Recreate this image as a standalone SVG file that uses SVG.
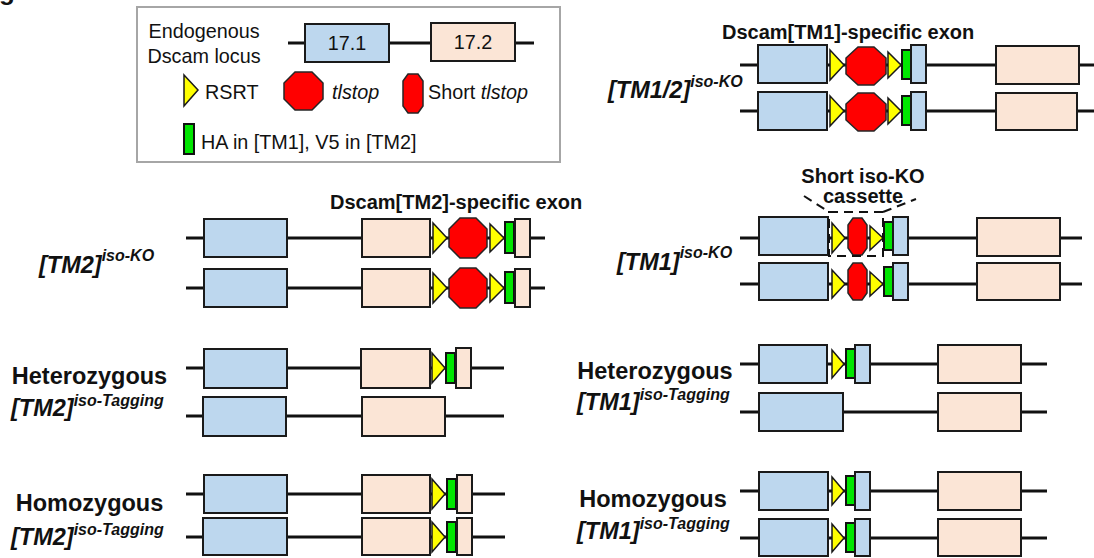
<svg xmlns="http://www.w3.org/2000/svg" width="1094" height="558" viewBox="0 0 1094 558">
<style>
.ln{stroke:#111;stroke-width:3;fill:none}
.bl{fill:#bdd7ee;stroke:#1a1a1a;stroke-width:2}
.pc{fill:#fbe5d6;stroke:#1a1a1a;stroke-width:2}
.rs{fill:#ffff00;stroke:#1a1a1a;stroke-width:1.5;stroke-linejoin:miter}
.st{fill:#ff0000;stroke:#262626;stroke-width:1.5}
.gr{fill:#00e600;stroke:#111;stroke-width:2}
.lg{font-family:"Liberation Sans",Arial,sans-serif;font-size:19.8px;fill:#111}
.an{font-family:"Liberation Sans",Arial,sans-serif;font-size:20px;font-weight:bold;fill:#111}
.lb{font-family:"Liberation Sans",Arial,sans-serif;font-size:23.5px;font-weight:bold;fill:#111}
.gt{font-family:"Liberation Sans",Arial,sans-serif;font-size:23.5px;font-weight:bold;font-style:italic;fill:#111}
.sup{font-size:16px}
.it{font-style:italic}
.dash{stroke:#111;stroke-width:2;fill:none;stroke-dasharray:9 6}
</style>
<rect width="1094" height="558" fill="#ffffff"/>
<text x="-1" y="0" style="font-family:'Liberation Sans',Arial,sans-serif;font-size:26px;font-weight:bold" fill="#111">g</text>

<g id="legend">
<rect x="137" y="7" width="423" height="155" fill="#ffffff" stroke="#a6a6a6" stroke-width="2"/>
<text class="lg" x="204" y="38" text-anchor="middle">Endogenous</text>
<text class="lg" x="204" y="63" text-anchor="middle">Dscam locus</text>
<line class="ln" x1="288" y1="43" x2="534" y2="43"/>
<rect class="bl" x="305" y="24" width="84" height="38"/>
<text class="lg" x="347" y="50" text-anchor="middle">17.1</text>
<rect class="pc" x="431" y="23" width="84" height="38"/>
<text class="lg" x="473" y="49" text-anchor="middle">17.2</text>
<polygon class="rs" points="184,75 198,90 184,106"/>
<text class="lg" x="205" y="99">RSRT</text>
<polygon class="st" points="295,72 312,72 323,83 323,99 312,110 295,110 284,99 284,83"/>
<text class="lg it" x="332" y="99">tlstop</text>
<polygon class="st" points="408,74 418,74 423,81 423,106 418,113 408,113 403,106 403,81"/>
<text class="lg" x="428" y="99">Short <tspan class="it">tlstop</tspan></text>
<rect class="gr" x="184" y="124" width="10" height="30"/>
<text class="lg" x="201" y="149">HA in [TM1], V5 in [TM2]</text>
</g>

<g id="tm12-isoko">
<text class="an" x="722" y="39">Dscam[TM1]-specific exon</text>
<text class="gt" x="608" y="98">[TM1/2]<tspan class="sup" dy="-11">iso-KO</tspan></text>
<line class="ln" x1="740" y1="65" x2="1094" y2="65"/>
<rect class="bl" x="758" y="45" width="69" height="38"/>
<polygon class="rs" points="830,50 844,65 830,80"/>
<polygon class="st" points="858,47 874,47 886,58 886,74 874,85 858,85 846,74 846,58"/>
<polygon class="rs" points="888,52 901,65 888,78"/>
<rect class="gr" x="902" y="50" width="9" height="29"/>
<rect class="bl" x="911" y="45" width="15" height="38"/>
<rect class="pc" x="996" y="46" width="83" height="38"/>
<line class="ln" x1="740" y1="111" x2="1094" y2="111"/>
<rect class="bl" x="758" y="92" width="69" height="38"/>
<polygon class="rs" points="830,96 844,111 830,126"/>
<polygon class="st" points="858,93 874,93 886,104 886,120 874,131 858,131 846,120 846,104"/>
<polygon class="rs" points="888,98 901,111 888,124"/>
<rect class="gr" x="902" y="96" width="9" height="29"/>
<rect class="bl" x="911" y="92" width="15" height="38"/>
<rect class="pc" x="996" y="93" width="81" height="37"/>
</g>

<g id="tm2-isoko">
<text class="an" x="330" y="209">Dscam[TM2]-specific exon</text>
<text class="gt" x="39" y="273">[TM2]<tspan class="sup" dy="-12">iso-KO</tspan></text>
<line class="ln" x1="186" y1="238" x2="545" y2="238"/>
<rect class="bl" x="204" y="219" width="83" height="38"/>
<rect class="pc" x="362" y="219" width="68" height="38"/>
<polygon class="rs" points="433,223 447,238 433,253"/>
<polygon class="st" points="460,218 476,218 487,229 487,247 476,258 460,258 449,247 449,229"/>
<polygon class="rs" points="490,224 504,238 490,252"/>
<rect class="gr" x="505" y="222" width="9" height="31"/>
<rect class="pc" x="515" y="219" width="15" height="38"/>
<line class="ln" x1="186" y1="288" x2="545" y2="288"/>
<rect class="bl" x="204" y="269" width="83" height="38"/>
<rect class="pc" x="362" y="269" width="68" height="38"/>
<polygon class="rs" points="433,273 447,288 433,303"/>
<polygon class="st" points="460,268 476,268 487,279 487,297 476,308 460,308 449,297 449,279"/>
<polygon class="rs" points="490,274 504,288 490,302"/>
<rect class="gr" x="505" y="272" width="9" height="31"/>
<rect class="pc" x="515" y="269" width="15" height="38"/>
</g>

<g id="tm1-isoko">
<text class="an" x="863" y="183" text-anchor="middle">Short iso-KO</text>
<text class="an" x="863" y="203" text-anchor="middle">cassette</text>
<text class="gt" x="617" y="270">[TM1]<tspan class="sup" dy="-12">iso-KO</tspan></text>
<line class="ln" x1="740" y1="238" x2="1082" y2="238"/>
<rect class="bl" x="759" y="217" width="69" height="38"/>
<polygon class="rs" points="832,223 845,238 832,253"/>
<polygon class="st" points="853,218 862,218 867,225 867,248 862,255 853,255 848,248 848,225"/>
<polygon class="rs" points="870,226 883,238 870,250"/>
<rect class="gr" x="884" y="222" width="9" height="28"/>
<rect class="bl" x="893" y="217" width="15" height="38"/>
<rect class="pc" x="977" y="218" width="83" height="38"/>
<line class="ln" x1="740" y1="284" x2="1082" y2="284"/>
<rect class="bl" x="759" y="263" width="69" height="37"/>
<polygon class="rs" points="832,270 845,284 832,298"/>
<polygon class="st" points="853,263 862,263 867,270 867,293 862,300 853,300 848,293 848,270"/>
<polygon class="rs" points="870,272 883,284 870,296"/>
<rect class="gr" x="884" y="267" width="9" height="29"/>
<rect class="bl" x="893" y="263" width="15" height="37"/>
<rect class="pc" x="977" y="263" width="83" height="37"/>
</g>

<g id="het-tm2">
<text class="lb" x="89.5" y="384" text-anchor="middle">Heterozygous</text>
<text class="gt" x="11" y="416">[TM2]<tspan class="sup" dy="-10">iso-Tagging</tspan></text>
<line class="ln" x1="186" y1="368" x2="504" y2="368"/>
<rect class="bl" x="204" y="349" width="83" height="39"/>
<rect class="pc" x="361" y="349" width="69" height="39"/>
<polygon class="rs" points="432,353 445,368 432,383"/>
<rect class="gr" x="446" y="353" width="9" height="30"/>
<rect class="pc" x="456" y="348" width="15" height="40"/>
<line class="ln" x1="186" y1="416" x2="504" y2="416"/>
<rect class="bl" x="203" y="397" width="83" height="39"/>
<rect class="pc" x="362" y="397" width="83" height="39"/>
</g>

<g id="het-tm1">
<text class="lb" x="655" y="379" text-anchor="middle">Heterozygous</text>
<text class="gt" x="577" y="410">[TM1]<tspan class="sup" dy="-10">iso-Tagging</tspan></text>
<line class="ln" x1="740" y1="364" x2="1047" y2="364"/>
<rect class="bl" x="759" y="345" width="68" height="38"/>
<polygon class="rs" points="832,350 844,364 832,378"/>
<rect class="gr" x="846" y="349" width="9" height="29"/>
<rect class="bl" x="855" y="345" width="15" height="38"/>
<rect class="pc" x="938" y="345" width="83" height="38"/>
<line class="ln" x1="740" y1="412" x2="1047" y2="412"/>
<rect class="bl" x="759" y="393" width="84" height="38"/>
<rect class="pc" x="938" y="393" width="83" height="38"/>
</g>

<g id="hom-tm2">
<text class="lb" x="89.5" y="511" text-anchor="middle">Homozygous</text>
<text class="gt" x="11" y="545">[TM2]<tspan class="sup" dy="-10">iso-Tagging</tspan></text>
<line class="ln" x1="186" y1="494" x2="505" y2="494"/>
<rect class="bl" x="204" y="475" width="83" height="38"/>
<rect class="pc" x="362" y="475" width="68" height="38"/>
<polygon class="rs" points="432,479 445,494 432,509"/>
<rect class="gr" x="447" y="479" width="9" height="30"/>
<rect class="pc" x="457" y="475" width="15" height="38"/>
<line class="ln" x1="186" y1="537" x2="505" y2="537"/>
<rect class="bl" x="203" y="518" width="84" height="37"/>
<rect class="pc" x="362" y="518" width="68" height="37"/>
<polygon class="rs" points="432,522 445,537 432,552"/>
<rect class="gr" x="447" y="522" width="9" height="30"/>
<rect class="pc" x="457" y="518" width="15" height="37"/>
</g>

<g id="hom-tm1">
<text class="lb" x="653" y="507" text-anchor="middle">Homozygous</text>
<text class="gt" x="577" y="539">[TM1]<tspan class="sup" dy="-10">iso-Tagging</tspan></text>
<line class="ln" x1="740" y1="491" x2="1047" y2="491"/>
<rect class="bl" x="759" y="472" width="69" height="38"/>
<polygon class="rs" points="832,477 844,491 832,505"/>
<rect class="gr" x="846" y="476" width="9" height="29"/>
<rect class="bl" x="855" y="472" width="15" height="38"/>
<rect class="pc" x="938" y="472" width="83" height="38"/>
<line class="ln" x1="740" y1="538" x2="1047" y2="538"/>
<rect class="bl" x="759" y="519" width="69" height="37"/>
<polygon class="rs" points="832,524 844,538 832,552"/>
<rect class="gr" x="846" y="523" width="9" height="29"/>
<rect class="bl" x="855" y="519" width="15" height="37"/>
<rect class="pc" x="938" y="519" width="83" height="37"/>
</g>

<g id="connectors">
<rect class="dash" x="829" y="212" width="54" height="44"/>
<line class="dash" x1="804" y1="196" x2="829" y2="212"/>
<line class="dash" x1="883" y1="212" x2="916" y2="199"/>
</g>
</svg>
